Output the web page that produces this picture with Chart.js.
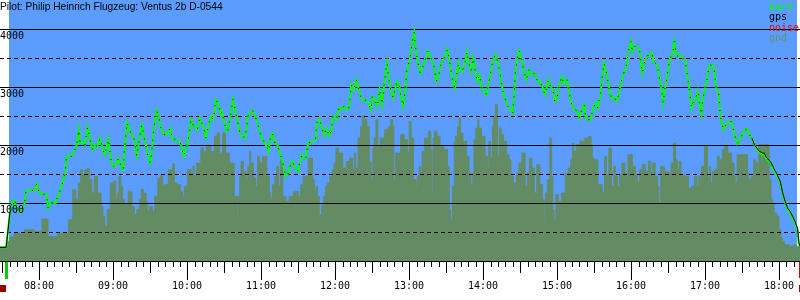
<!DOCTYPE html>
<html><head><meta charset="utf-8">
<script src="https://cdn.jsdelivr.net/npm/chart.js@4.4.0/dist/chart.umd.min.js"></script>
<style>html,body{margin:0;padding:0;background:#fff;}#wrap{width:800px;height:300px;}</style>
</head><body><div id="wrap"><canvas id="c" width="800" height="300"></canvas></div>
<script>
const chartTitle = 'Pilot: Philip Heinrich Flugzeug: Ventus 2b D-0544';
const seriesNames = ['baro', 'gps', 'noise', 'gnd'];
const seriesColors = ['#00ff00', '#000000', '#ff0000', '#6b8f6b'];

// time in minutes after midnight, altitude in metres
const baroTimes = [
 448,453,456,458,460,462,464,466,468,469,471,476,478,480,486,487,489,493,494,497,498,501,502,506,508,510,512,513,516,517,519,521,523,525,527,529,532,533,536,538,540,543,544,546,548,549,551,554,556,557,559,562,563,565,567,568,570,571,573,575,577,578,581,583,586,588,590,593,595,597,600,602,603,605,608,610,
 613,615,617,619,621,622,623,625,627,628,630,632,633,635,637,639,641,643,645,647,649,651,653,655,657,659,661,663,666,667,669,671,673,675,677,678,680,682,684,685,687,690,691,693,695,696,698,701,704,705,707,709,711,713,715,717,718,721,723,725,727,729,731,733,735,737,740,741,744,747,749,750,752,754,756,758,760,762,763,765,767,770,772,
 773,775,777,778,781,782,784,785,787,789,791,794,795,797,800,802,804,806,809,811,813,815,817,818,820,821,823,825,827,828,830,832,833,835,837,839,841,843,844,846,848,850,852,854,856,858,860,862,864,865,866,868,869,871,873,875,877,879,882,884,886,888,890,891,893,894,897,898,900,901,904,905,908,910,911,913,915,917,918,920,922,923,925,927,929,931,933,934,
 935,936,938,940,942,944,946,948,950,951,954,956,958,960,961,963,965,967,968,969,971,974,977,978,981,983,985,986,987,989,991,994,995,997,999,1001,1004,1005,1007,1009,1010,1012,1014,1015,1017,1018,1021,1023,1024,1027,1028,1029,1031,1032,1033,1035,1037,1039,1041,1042,1044,1046,1048,1050,1051,1054,1056,1058,1060,1062,1064,1067,1068,1070,1073,1075,1077,1078,1081,1083,1085,1087,1089,1091,1093,1095,1096,1097
];
const baroAlt = [
 235,235,827,1039,1035,856,860,884,999,1200,1215,1220,1332,1160,1143,913,1010,1000,1057,1229,1287,1545,1804,1804,1890,1976,2264,2034,2034,2005,2310,2120,1919,2005,1976,2120,1890,1833,2103,1746,1631,1689,1775,1660,1574,1919,2390,2206,2149,2091,1804,2235,2350,2120,1947,1804,1689,1861,2321,2597,2465,2321,2177,2177,2292,2091,2103,2080,2005,1804,2005,2264,2436,2332,2264,2465,
 2321,2120,2321,2493,2436,2580,2781,2723,2522,2580,2378,2235,2264,2493,2792,2580,2378,2177,2149,2120,2493,2551,2597,2493,2378,2206,2091,2034,1890,2091,2206,2034,2005,1861,1746,1631,1459,1516,1689,1718,1631,1545,1689,1833,1804,1775,2034,2062,2091,2378,2447,2321,2177,2292,2149,2264,2493,2436,2637,2608,2666,2608,2637,3039,2953,3126,2896,2781,2781,2723,2608,2838,2781,2666,2953,2694,3126,3413,3212,2953,2810,3097,3011,
 2867,2666,2982,3269,3528,3729,3942,3700,3413,3240,3355,3528,3614,3528,3355,3097,3212,3413,3528,3654,3413,3126,2982,3154,3413,3269,3269,3413,3614,3442,3269,3499,3355,3097,3212,2953,2924,2867,3039,3240,3470,3557,3413,3183,2924,2781,2666,2608,2551,2838,3240,3557,3631,3499,3269,3126,3298,3212,3240,3097,3097,3011,2867,2953,3126,3039,2924,2752,2781,3011,3183,3068,3126,2896,2752,2637,2608,2551,2465,2608,2694,2493,2436,2436,2608,2723,2637,2781,
 2810,3097,3413,3240,2982,2810,2838,2752,2867,3011,3240,3355,3643,3786,3614,3700,3689,3614,3413,3240,3442,3557,3585,3442,3384,3154,2924,2723,2924,3154,3442,3614,3786,3528,3557,3528,3442,3269,3011,2637,2723,2781,2924,2752,2522,2781,3068,3327,3384,3355,3183,2982,2896,2608,2436,2264,2350,2407,2407,2350,2177,2022,2091,2177,2235,2275,2177,2120,2005,1919,1861,1833,1833,1746,1689,1603,1516,1488,1344,1143,999,884,827,741,654,539,310,252
];
const gpsAlt = [
 235,235,827,1039,1035,856,860,884,999,1200,1215,1220,1332,1160,1143,913,1010,1000,1057,1229,1287,1545,1804,1804,1890,1976,2264,2034,2034,2005,2310,2120,1919,2005,1976,2120,1890,1833,2103,1746,1631,1689,1775,1660,1574,1919,2390,2206,2149,2091,1804,2235,2350,2120,1947,1804,1689,1861,2321,2597,2465,2321,2177,2177,2292,2091,2103,2080,2005,1804,2005,2264,2436,2332,2264,2465,
 2321,2120,2321,2493,2436,2580,2781,2723,2522,2580,2378,2235,2264,2493,2792,2580,2378,2177,2149,2120,2493,2551,2597,2493,2378,2206,2091,2034,1890,2091,2206,2034,2005,1861,1746,1631,1459,1516,1689,1718,1631,1545,1689,1833,1804,1775,2034,2062,2091,2378,2447,2321,2177,2292,2149,2264,2493,2436,2637,2608,2666,2608,2637,3039,2953,3126,2896,2781,2781,2723,2608,2838,2781,2666,2953,2694,3126,3413,3212,2953,2810,3097,3011,
 2867,2666,2982,3269,3528,3729,3942,3700,3413,3240,3355,3528,3614,3528,3355,3097,3212,3413,3528,3654,3413,3126,2982,3154,3413,3269,3269,3413,3614,3442,3269,3499,3355,3097,3212,2953,2924,2867,3039,3240,3470,3557,3413,3183,2924,2781,2666,2608,2551,2838,3240,3557,3631,3499,3269,3126,3298,3212,3240,3097,3097,3011,2867,2953,3126,3039,2924,2752,2781,3011,3183,3068,3126,2896,2752,2637,2608,2551,2465,2608,2694,2493,2436,2436,2608,2723,2637,2781,
 2810,3097,3413,3240,2982,2810,2838,2752,2867,3011,3240,3355,3643,3786,3614,3700,3689,3614,3413,3240,3442,3557,3585,3442,3384,3154,2924,2723,2924,3154,3442,3614,3786,3528,3557,3528,3442,3269,3011,2637,2723,2781,2924,2752,2522,2781,3068,3327,3384,3355,3183,2982,2896,2608,2436,2264,2350,2407,2407,2350,2177,2022,2091,2177,2235,2275,2177,2120,2005,1945,1890,1860,1860,1775,1715,1630,1545,1515,1370,1170,1025,910,855,770,680,565,330,252
];
const gndTimes = [
 448,453,455,456,463,473,478,486,488,502,505,509,510,513,514,516,518,520,521,524,525,529,531,532,534,536,539,541,543,544,545,547,548,550,554,556,558,560,562,563,566,567,568,570,573,574,578,579,581,582,587,589,590,594,595,597,598,602,604,605,606,609,
 610,612,614,617,621,623,625,627,630,632,636,640,641,642,643,644,647,648,650,651,652,655,656,658,659,663,666,667,668,670,672,673,675,676,677,678,682,683,689,691,693,695,701,702,704,705,706,708,710,711,713,714,717,718,720,721,724,728,730,733,735,736,737,740,741,743,744,747,748,750,751,752,754,755,758,762,764,766,767,768,770,771,
 772,774,778,779,781,782,785,786,787,789,790,791,794,797,798,799,800,801,804,806,810,812,813,814,816,817,818,820,821,822,825,828,829,831,832,833,835,836,837,840,843,844,845,847,848,849,851,852,854,855,858,860,862,863,866,868,870,873,875,877,878,881,882,885,887,889,890,891,893,895,896,897,898,900,902,905,908,910,912,913,914,917,920,924,927,928,929,931,
 935,938,939,941,943,945,947,948,950,951,954,956,959,963,964,966,968,970,973,975,977,978,981,982,983,985,989,991,994,995,997,998,1000,1001,1005,1008,1010,1013,1014,1016,1018,1021,1023,1024,1025,1027,1029,1031,1032,1033,1035,1037,1040,1043,1044,1045,1047,1054,1055,1056,1059,1060,1062,1063,1064,1071,1073,1074,1075,1077,1079,1081,1082,1083,1086,1091,1093,1094,1097
];
const gndAlt = [
 235,235,338,413,482,539,511,723,425,482,712,1229,1057,1344,1574,1488,1574,1591,1401,1172,1459,1172,942,769,597,884,1344,1373,1057,1172,1459,1287,1057,970,1200,942,798,884,1057,1229,1172,1028,856,942,856,1114,1430,1488,1287,1315,1574,1677,1344,1315,1200,1114,1287,1574,1459,1631,1459,1689,
 1689,1947,1890,1976,1890,2149,2206,1861,2206,1861,1689,1114,712,1114,1459,1718,1545,1401,1631,1890,1689,1430,1287,1804,1689,1804,1459,1172,1085,1315,1459,1631,1287,1746,1631,1114,1028,1114,1200,1114,1315,1459,1775,1401,1229,1287,1114,798,970,1114,1287,1344,1459,1574,1689,1947,1861,1603,1718,1775,1574,1861,1603,2120,2321,2493,2436,2321,1718,1401,1947,2120,2436,1976,2120,2264,2321,2436,2321,1401,1861,1746,
 1861,2177,2091,1861,2407,2120,1401,1287,1459,1631,1516,1890,2120,2235,1919,1200,2120,2235,2149,1976,1919,1631,884,712,1287,2062,2149,2321,2465,2206,2062,1804,1516,1315,1516,2091,2292,2436,2292,2149,1804,1631,2062,1775,2321,2493,2694,1804,2292,2177,2062,1833,1746,1459,1344,1516,1689,1861,1287,1516,1775,1603,1172,1660,1315,1057,654,1172,1401,2120,1459,884,712,1143,1028,1172,1516,1603,1746,2034,1890,2005,2062,2120,2149,2005,1775,1746,
 1315,1172,1804,1488,1947,1287,1631,1459,1287,1488,1689,1516,1833,1631,1488,1373,1574,1660,1545,1718,1516,1689,1459,1287,999,1631,1545,1516,1689,2034,1746,1574,1718,1488,1459,1258,1287,1459,1287,1459,1631,1976,1459,1631,1344,1545,1574,1804,1631,1746,1919,1976,1861,1689,1459,1344,1833,1833,1516,1401,1459,1746,1689,1401,2005,2005,1401,1057,999,827,769,539,396,338,281,252,281,252,252
];

const hourTicks = [480, 540, 600, 660, 720, 780, 840, 900, 960, 1020, 1080];
const minorTickStep = 6;
const altSolid = [1000, 2000, 3000, 4000];
const altDashed = [500, 1500, 2500, 3500];
const altLabels = [1000, 2000, 3000, 4000];
const takeoffTime = 455.3, landingTime = 1094.6;
const startMark = 453, endMark = 1096.4;
const finalGlideStart = 1058;
const xMin = 448, xMax = 1097, yMin = 0, yMax = 4500;

const pts = (ts, vs) => ts.map((t, i) => ({x: t, y: vs[i]}));
const fmt = v => String(Math.floor(v / 60)).padStart(2, '0') + ':' + String(v % 60).padStart(2, '0');

const decor = {
  id: 'decor',
  beforeDatasetsDraw(chart) {
    const {ctx, chartArea: a, scales: {x}} = chart;
    ctx.save();
    ctx.fillStyle = '#5a9cff';
    ctx.fillRect(a.left, a.top, a.right - a.left, a.bottom - a.top);
    ctx.fillStyle = '#ffffff';
    const x0 = Math.round(x.getPixelForValue(takeoffTime));
    const x1 = Math.round(x.getPixelForValue(landingTime));
    ctx.fillRect(a.left, a.top, x0 - a.left, a.bottom - a.top);
    ctx.fillRect(x1, a.top, a.right - x1, a.bottom - a.top);
    ctx.restore();
  },
  afterDatasetDraw(chart, args) {
    if (args.index !== 0) return;
    const {ctx, chartArea: a, scales: {y}} = chart;
    ctx.save();
    ctx.strokeStyle = '#000';
    ctx.lineWidth = 1;
    altSolid.forEach(v => {
      const py = Math.round(y.getPixelForValue(v)) + 0.5;
      ctx.beginPath(); ctx.moveTo(a.left, py); ctx.lineTo(a.right, py); ctx.stroke();
    });
    ctx.setLineDash([4, 3]);
    altDashed.forEach(v => {
      const py = Math.round(y.getPixelForValue(v)) + 0.5;
      ctx.beginPath(); ctx.moveTo(a.left, py); ctx.lineTo(a.right, py); ctx.stroke();
    });
    ctx.restore();
  },
  afterDraw(chart) {
    const {ctx, chartArea: a, scales: {x, y}} = chart;
    ctx.save();
    // axis line and time ticks
    ctx.strokeStyle = '#000';
    ctx.lineWidth = 1;
    ctx.beginPath(); ctx.moveTo(0, a.bottom + 0.5); ctx.lineTo(800, a.bottom + 0.5); ctx.stroke();
    for (let t = Math.ceil(xMin / minorTickStep) * minorTickStep; t <= xMax; t += minorTickStep) {
      const px = Math.round(x.getPixelForValue(t)) + 0.5;
      const len = t % 60 === 0 ? 19 : (t % 30 === 0 ? 12 : 6);
      ctx.beginPath(); ctx.moveTo(px, a.bottom); ctx.lineTo(px, a.bottom + len); ctx.stroke();
    }
    // time labels
    ctx.fillStyle = '#000';
    ctx.font = '10px "DejaVu Sans Mono"';
    ctx.textAlign = 'center';
    ctx.textBaseline = 'middle';
    hourTicks.forEach(t => {
      ctx.fillText(fmt(t), Math.round(x.getPixelForValue(t)), 286);
    });
    // takeoff / landing markers
    const sx = Math.round(x.getPixelForValue(startMark));
    const ex = Math.round(x.getPixelForValue(endMark));
    ctx.fillStyle = '#00cc00';
    ctx.fillRect(sx - 1, a.bottom + 1, 3, 17);
    ctx.fillStyle = '#dd0000';
    ctx.fillRect(ex, a.bottom + 1, 2, 16);
    ctx.fillStyle = '#990000';
    ctx.fillRect(0, 285, sx, 7);
    ctx.fillRect(ex, 285, 800 - ex, 7);
    // altitude labels
    ctx.fillStyle = '#000';
    ctx.textAlign = 'left';
    ctx.textBaseline = 'top';
    altLabels.forEach(v => {
      ctx.fillText(String(v), 0, Math.round(y.getPixelForValue(v)) + 2);
    });
    // title
    ctx.font = '10.2px "Liberation Sans"';
    ctx.textBaseline = 'alphabetic';
    ctx.fillText(chartTitle, 0, 10);
    // legend
    ctx.font = '10px "DejaVu Sans Mono"';
    const base = [10, 20, 30.5, 40.5];
    seriesNames.forEach((n, i) => {
      ctx.fillStyle = seriesColors[i];
      ctx.fillText(n, 769, base[i]);
    });
    ctx.restore();
  }
};

new Chart(document.getElementById('c'), {
  type: 'line',
  data: {
    datasets: [
      {label: seriesNames[3], data: pts(gndTimes, gndAlt), order: 3, stepped: 'middle',
       borderColor: '#648c64', backgroundColor: '#648c64', borderWidth: 1, fill: 'origin', pointRadius: 0},
      {label: seriesNames[0], data: pts(baroTimes, baroAlt), order: 2,
       borderColor: seriesColors[0], borderWidth: 2, fill: false, pointRadius: 0, tension: 0},
      {label: seriesNames[1], data: pts(baroTimes, gpsAlt), order: 1,
       borderColor: seriesColors[1], borderWidth: 1, fill: false, pointRadius: 0, tension: 0,
       segment: {borderDash: c => c.p0.parsed.x < finalGlideStart && c.p0.parsed.x > takeoffTime ? [1, 7] : undefined}}
    ]
  },
  options: {
    responsive: false,
    animation: false,
    events: [],
    layout: {padding: {left: 0, right: 0, top: 0, bottom: 39}},
    plugins: {legend: {display: false}, tooltip: {enabled: false}, title: {display: false}},
    scales: {
      x: {type: 'linear', display: false, min: xMin, max: xMax},
      y: {display: false, min: yMin, max: yMax}
    }
  },
  plugins: [decor]
});
</script>
</body></html>
